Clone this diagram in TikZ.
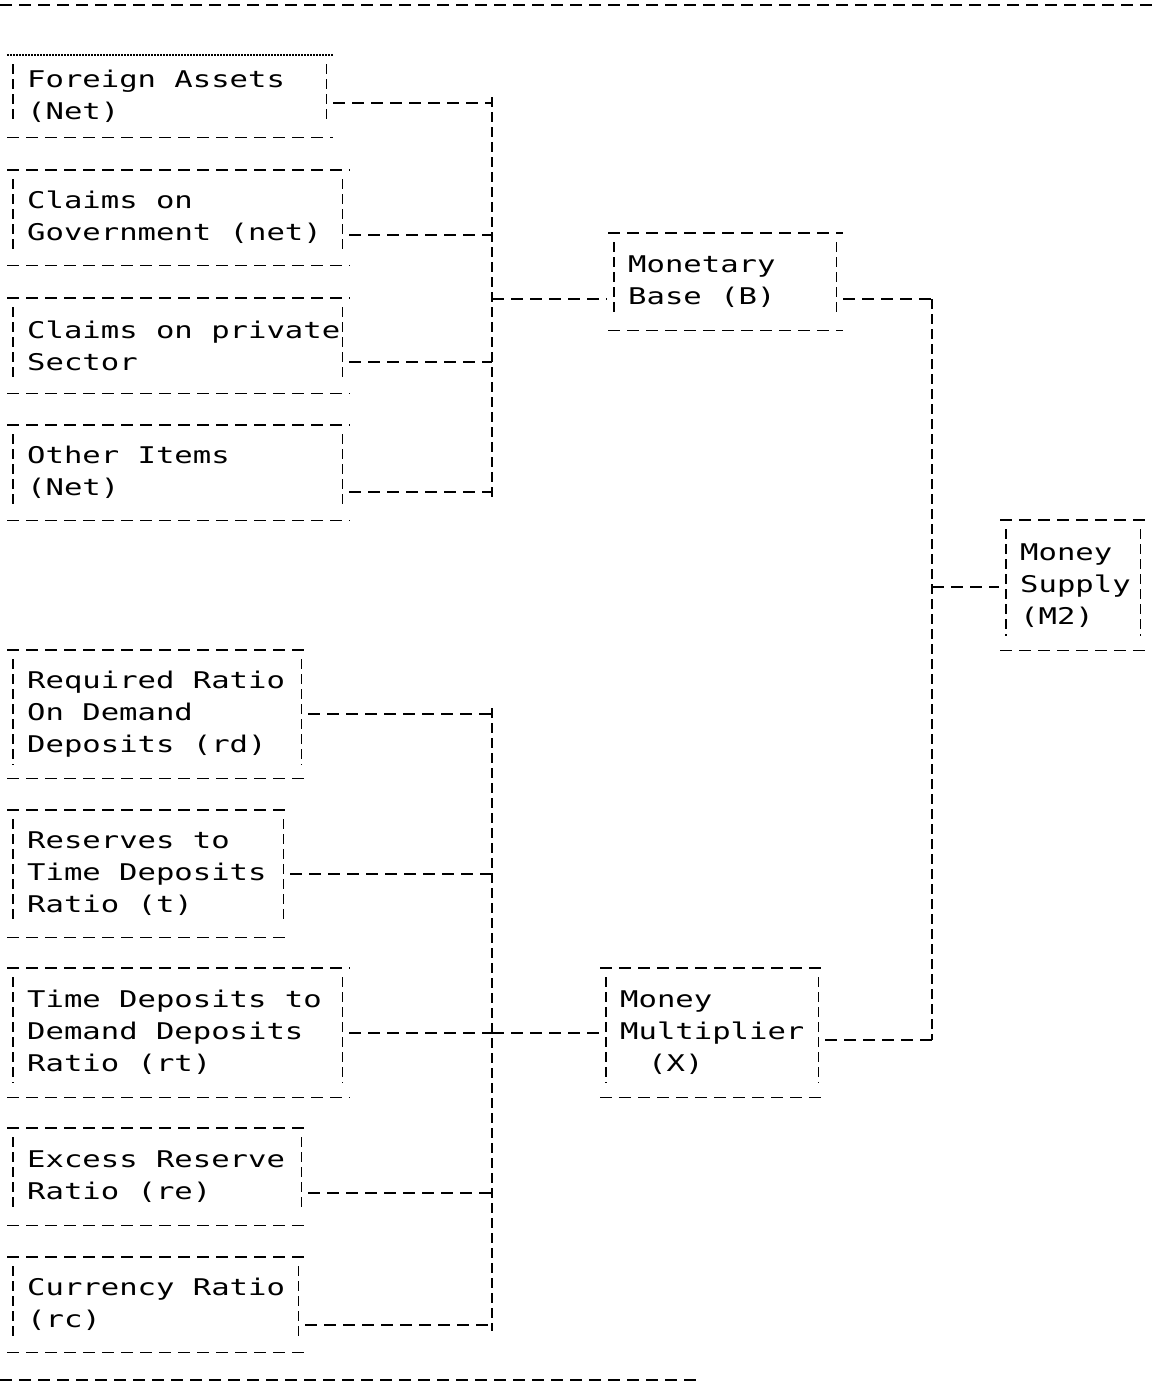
\documentclass[tikz,border=0pt]{standalone}
\usepackage{fontspec}
\newfontfamily\dotmatrix[FakeStretch=1.33]{DejaVu Sans Mono}
\usetikzlibrary{calc}

\begin{document}
\begin{tikzpicture}[x=1pt, y=-1pt,
  tbox/.style={anchor=north west, inner sep=0pt, align=left,
    font=\dotmatrix\fontsize{23}{32}\selectfont,
    execute at begin node={\spaceskip=18.4pt\relax}},
  rule/.style={black, line width=1.8pt, dash pattern=on 12pt off 7pt},
  bar/.style={black, line width=1.8pt, dash pattern=on 10pt off 5pt}]
  \useasboundingbox (0,0) rectangle (1157,1385);
  \draw[rule] (0,5) -- (1157,5);
  \draw[rule] (0,1380) -- (700,1380);

  \node[tbox, text width=306, minimum height=82] (fa) at (27,55) {Foreign Assets\\(Net)};
  \node[tbox, text width=322, minimum height=95] (cg) at (27,170) {Claims on\\Government (net)};
  \node[tbox, text width=322, minimum height=95] (cp) at (27,298) {Claims on private\\Sector};
  \node[tbox, text width=322, minimum height=95] (oi) at (27,425) {Other Items\\(Net)};
  \node[tbox, text width=215, minimum height=97] (mb) at (628,233) {Monetary\\Base (B)};
  \node[tbox, text width=127, minimum height=130] (ms) at (1020,520) {Money\\Supply\\(M2)};
  \node[tbox, text width=281, minimum height=128] (rd) at (27,650) {Required Ratio\\On Demand\\Deposits (rd)};
  \node[tbox, text width=263, minimum height=127] (rt) at (27,810) {Reserves to\\Time Deposits\\Ratio (t)};
  \node[tbox, text width=322, minimum height=129] (tdd) at (27,968) {Time Deposits to\\Demand Deposits\\Ratio (rt)};
  \node[tbox, text width=281, minimum height=97] (er) at (27,1128) {Excess Reserve\\Ratio (re)};
  \node[tbox, text width=278, minimum height=95] (cr) at (27,1257) {Currency Ratio\\(rc)};
  \node[tbox, text width=205, minimum height=129] (mm) at (620,968) {Money\\Multiplier\\\hspace*{28pt}(X)};

  \draw[black, line width=1.2pt, dash pattern=on 2pt off 1pt] ([xshift=-20pt]fa.north west) -- (fa.north east);
  \foreach \b in {cg,cp,oi,mb,ms,rd,rt,tdd,er,cr,mm}
    \draw[rule] ([xshift=-20pt]\b.north west) -- (\b.north east);
  \foreach \b in {fa,cg,cp,oi,mb,ms,rd,rt,tdd,er,cr,mm} {
    \draw[rule] ([xshift=-20pt]\b.south west) -- (\b.south east);
    \draw[bar] ([xshift=-14pt,yshift=-9pt]\b.north west) -- ([xshift=-14pt,yshift=14pt]\b.south west);
    \draw[bar] ([xshift=-7pt,yshift=-9pt]\b.north east) -- ([xshift=-7pt,yshift=14pt]\b.south east);
  }

  \coordinate (ta) at (492,103);
  \coordinate (tb) at (492,235);
  \coordinate (tc) at (492,362);
  \coordinate (td) at (492,492);
  \coordinate (tm) at (492,299);
  \coordinate (te) at (492,714);
  \coordinate (tf) at (492,874);
  \coordinate (tg) at (492,1033);
  \coordinate (th) at (492,1193);
  \coordinate (ti) at (492,1325);
  \coordinate (sb) at (932,299);
  \coordinate (ss) at (932,587);
  \coordinate (sx) at (932,1040);

  \draw[bar] ([yshift=6pt]ta) -- ([yshift=-6pt]td);
  \draw[bar] ([yshift=6pt]te) -- ([yshift=-6pt]ti);
  \draw[bar] (sb) -- (sx);

  \draw[rule] (fa.east |- ta) -- (ta);
  \draw[rule] (cg.east |- tb) -- (tb);
  \draw[rule] (cp.east |- tc) -- (tc);
  \draw[rule] (oi.east |- td) -- (td);
  \draw[rule, shorten >=21pt] (tm) -- (tm -| mb.west);
  \draw[rule] (mb.east |- sb) -- (sb);
  \draw[rule, shorten >=21pt] (ss) -- (ss -| ms.west);

  \draw[rule] (rd.east |- te) -- (te);
  \draw[rule] (rt.east |- tf) -- (tf);
  \draw[rule] (tdd.east |- tg) -- (tg);
  \draw[rule] (er.east |- th) -- (th);
  \draw[rule] (cr.east |- ti) -- (ti);
  \draw[rule, shorten >=21pt] (tg) -- (tg -| mm.west);
  \draw[rule] (mm.east |- sx) -- (sx);
\end{tikzpicture}
\end{document}
